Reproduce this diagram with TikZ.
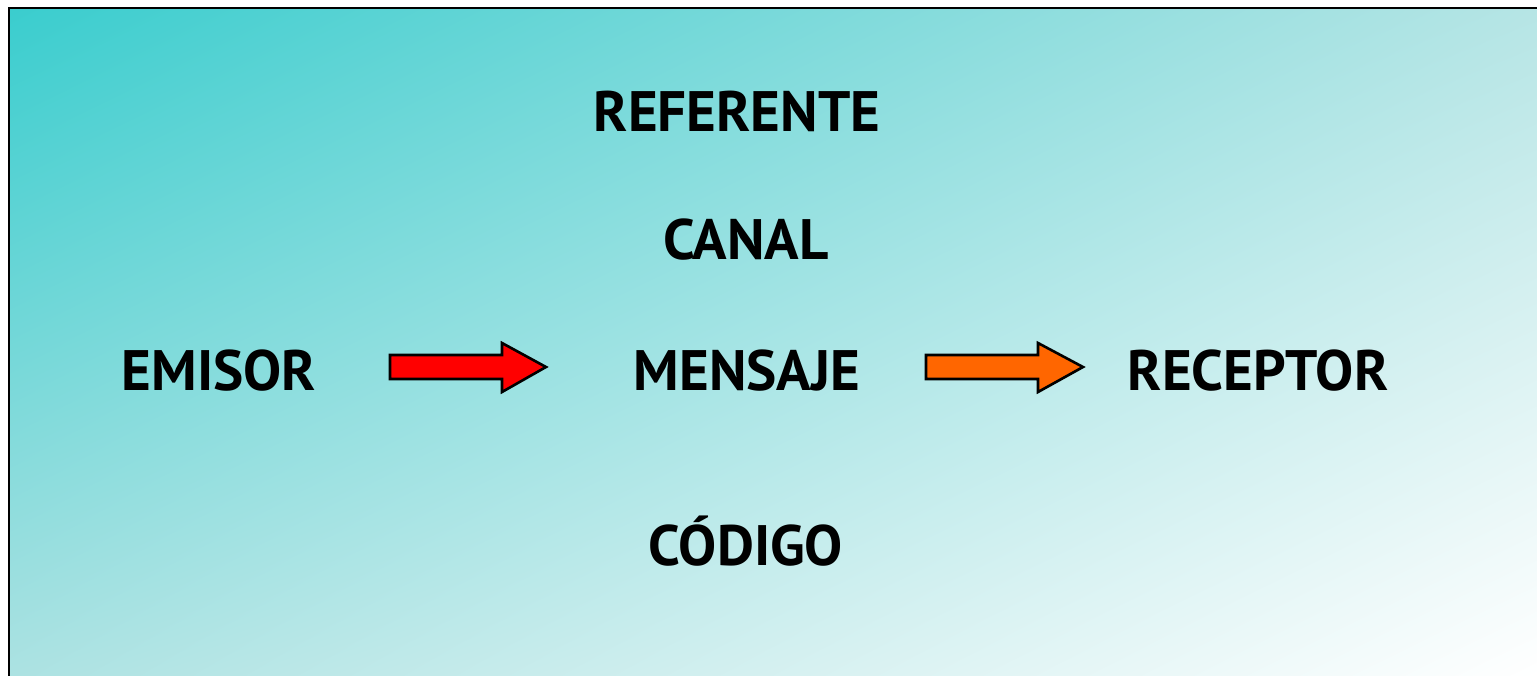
\documentclass[tikz,border=0pt]{standalone}
\usepackage{fontspec}
\setmainfont{PT Sans}
\usetikzlibrary{shadings}
\begin{document}
\begin{tikzpicture}[x=1pt,y=-1pt,
  lbl/.style={font=\fontsize{57}{62}\selectfont\bfseries, text=black, inner sep=0pt, anchor=base},
  blockarrow/.style={draw=black, line width=2.6pt, line join=miter}]
\useasboundingbox (0,0) rectangle (1537,675);
\definecolor{tl}{RGB}{58,205,206}
\definecolor{tr}{RGB}{182,229,229}
\definecolor{bl}{RGB}{172,226,226}
\definecolor{br}{RGB}{255,255,255}
\shade[upper left=tl, upper right=tr, lower left=bl, lower right=br] (9,8) rectangle (1537,675);
\draw[line width=2.6pt, line cap=rect] (9,680) -- (9,8) -- (1540,8);
\node[lbl] (ref) at (737,131) {REFERENTE};
\node[lbl] (canal) at (746,259) {CANAL};
\node[lbl] (emisor) at (219,390) {EMISOR};
\node[lbl] (mensaje) at (747,390) {MENSAJE};
\node[lbl] (receptor) at (1258,390) {RECEPTOR};
\node[lbl] (codigo) at (746,565) {CÓDIGO};
\draw[blockarrow, fill={rgb,255:red,255;green,0;blue,0}]
  (390,355) -- (502,355) -- (502,343) -- (546,367) -- (502,392) -- (502,379) -- (390,379) -- cycle;
\draw[blockarrow, fill={rgb,255:red,255;green,102;blue,0}]
  (926,355) -- (1038,355) -- (1038,343) -- (1083,367) -- (1038,392) -- (1038,379) -- (926,379) -- cycle;
\end{tikzpicture}
\end{document}
